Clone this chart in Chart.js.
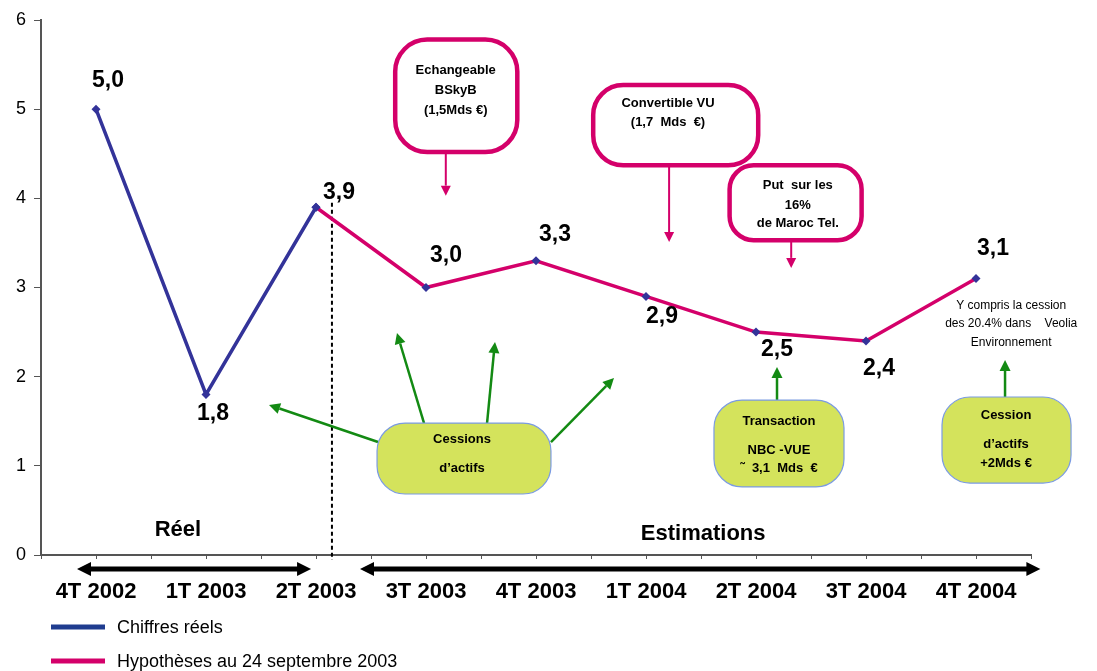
<!DOCTYPE html>
<html>
<head>
<meta charset="utf-8">
<script src="https://cdn.jsdelivr.net/npm/chart.js@4/dist/chart.umd.min.js"></script>
<style>
  html, body { margin: 0; padding: 0; background: #fff; }
  #wrap { position: relative; width: 1097px; height: 671px; }
</style>
</head>
<body>
<div id="wrap"><canvas id="c" width="1097" height="671"></canvas></div>
<script>
// ---- data ----
const categories = ['4T 2002', '1T 2003', '2T 2003', '3T 2003', '4T 2003', '1T 2004', '2T 2004', '3T 2004', '4T 2004'];
const chiffresReels = [5.0, 1.8, 3.9, null, null, null, null, null, null];
const hypotheses = [null, null, 3.9, 3.0, 3.3, 2.9, 2.5, 2.4, 3.1];
const yTickValues = [0, 1, 2, 3, 4, 5, 6];
const seriesNames = ['Chiffres réels', 'Hypothèses au 24 septembre 2003'];

// ---- styling ----
const FONT = '"Liberation Sans", Arial, sans-serif';
const BLUE = '#333399';
const PINK = '#D4006A';
const GREEN = '#138A13';
const BOX_FILL = '#D4E35C';
const BOX_EDGE = '#7B9BE2';
// value-label offsets (px) from each point
const labelOffsets = [[12, -29], [7, 19], [23, -15], [20, -32], [19, -26], [16, 20], [21, 18], [13, 28], [17, -30]];

const toPoints = arr => arr.map((v, i) => ({ x: i, y: v }));
const fmt = v => v.toFixed(1).replace('.', ',');

// callouts, positioned in axis units (x: category index, y: value)
const pinkCallouts = [
  { box: [2.72, 5.78, 3.83, 4.52], cx: 3.27, lines: [['Echangeable', 5.44], ['BSkyB', 5.215], ['(1,5Mds €)', 4.99]], arrow: [3.18, 4.52, 3.18, 4.03], r: 32 },
  { box: [4.52, 5.27, 6.02, 4.37], cx: 5.20, lines: [['Convertible VU', 5.07], ['(1,7  Mds  €)', 4.855]], arrow: [5.21, 4.37, 5.21, 3.51], r: 30 },
  { box: [5.76, 4.37, 6.96, 3.53], cx: 6.38, lines: [['Put  sur les', 4.15], ['16%', 3.925], ['de Maroc Tel.', 3.72]], arrow: [6.32, 3.53, 6.32, 3.22], r: 24 }
];
const greenCallouts = [
  { box: [2.555, 1.48, 4.136, 0.684], cx: 3.327, lines: [['Cessions', 1.30], ['d’actifs', 0.976]],
    arrows: [[2.564, 1.267, 1.573, 1.682], [2.982, 1.48, 2.736, 2.49], [3.555, 1.48, 3.627, 2.389], [4.136, 1.267, 4.709, 1.985]] },
  { box: [5.618, 1.738, 6.80, 0.763], cx: 6.209, lines: [['Transaction', 1.503], ['NBC -VUE', 1.178], ['˜  3,1  Mds  €', 0.976]],
    arrows: [[6.191, 1.738, 6.191, 2.108]] },
  { box: [7.691, 1.772, 8.864, 0.807], cx: 8.273, lines: [['Cession', 1.57], ['d’actifs', 1.245], ['+2Mds €', 1.032]],
    arrows: [[8.264, 1.772, 8.264, 2.187]] }
];
const noteLines = [['Y compris la cession', 2.792], ['des 20.4% dans    Veolia', 2.591], ['Environnement', 2.378]];
const noteX = 8.32;
const periodLabels = [['Réel', 0.745, 0.28], ['Estimations', 5.52, 0.236]];
const divider = { x: 2.145, from: 3.95, to: -0.056 };
const spans = [[-0.173, 1.955, -0.157], [2.40, 8.585, -0.157]];

function roundRect(ctx, x, y, w, h, r) {
  r = Math.min(r, w / 2, h / 2);
  ctx.beginPath();
  ctx.moveTo(x + r, y);
  ctx.arcTo(x + w, y, x + w, y + h, r);
  ctx.arcTo(x + w, y + h, x, y + h, r);
  ctx.arcTo(x, y + h, x, y, r);
  ctx.arcTo(x, y, x + w, y, r);
  ctx.closePath();
}

function arrow(ctx, x1, y1, x2, y2, color, lw, hl, hw) {
  const a = Math.atan2(y2 - y1, x2 - x1);
  const bx = x2 - Math.cos(a) * hl, by = y2 - Math.sin(a) * hl;
  ctx.strokeStyle = color; ctx.fillStyle = color; ctx.lineWidth = lw;
  ctx.beginPath(); ctx.moveTo(x1, y1); ctx.lineTo(bx, by); ctx.stroke();
  ctx.beginPath();
  ctx.moveTo(x2, y2);
  ctx.lineTo(bx + Math.sin(a) * hw, by - Math.cos(a) * hw);
  ctx.lineTo(bx - Math.sin(a) * hw, by + Math.cos(a) * hw);
  ctx.closePath(); ctx.fill();
}

const decorations = {
  id: 'decorations',
  beforeDatasetsDraw(chart) {
    const ctx = chart.ctx, xs = chart.scales.x, ys = chart.scales.y;
    const X = v => xs.getPixelForValue(v), Y = v => ys.getPixelForValue(v);
    ctx.save();
    // divider between actuals and estimates
    ctx.strokeStyle = '#000'; ctx.lineWidth = 2; ctx.setLineDash([4, 3]);
    ctx.beginPath(); ctx.moveTo(X(divider.x), Y(divider.from)); ctx.lineTo(X(divider.x), Y(divider.to)); ctx.stroke();
    ctx.setLineDash([]);
    ctx.restore();
  },
  afterDraw(chart) {
    const ctx = chart.ctx, xs = chart.scales.x, ys = chart.scales.y;
    const X = v => xs.getPixelForValue(v), Y = v => ys.getPixelForValue(v);
    ctx.save();

    // value labels
    ctx.fillStyle = '#000'; ctx.font = `bold 23px ${FONT}`;
    ctx.textAlign = 'center'; ctx.textBaseline = 'middle';
    categories.forEach((c, i) => {
      const v = chiffresReels[i] != null ? chiffresReels[i] : hypotheses[i];
      if (v == null) return;
      const [dx, dy] = labelOffsets[i];
      ctx.fillText(fmt(v), X(i) + dx, Y(v) + dy);
    });

    // period labels
    ctx.font = `bold 22px ${FONT}`;
    periodLabels.forEach(([t, x, y]) => ctx.fillText(t, X(x), Y(y)));

    // double-headed span arrows under the axis
    spans.forEach(([a, b, y]) => {
      const xa = X(a), xb = X(b), yy = Y(y), hl = 14, hw = 7;
      ctx.fillStyle = '#000'; ctx.strokeStyle = '#000'; ctx.lineWidth = 5;
      ctx.beginPath(); ctx.moveTo(xa + hl - 1, yy); ctx.lineTo(xb - hl + 1, yy); ctx.stroke();
      ctx.beginPath(); ctx.moveTo(xa, yy); ctx.lineTo(xa + hl, yy - hw); ctx.lineTo(xa + hl, yy + hw); ctx.closePath(); ctx.fill();
      ctx.beginPath(); ctx.moveTo(xb, yy); ctx.lineTo(xb - hl, yy - hw); ctx.lineTo(xb - hl, yy + hw); ctx.closePath(); ctx.fill();
    });

    // pink callouts
    pinkCallouts.forEach(c => {
      const [x1, y1, x2, y2] = c.box;
      roundRect(ctx, X(x1), Y(y1), X(x2) - X(x1), Y(y2) - Y(y1), c.r);
      ctx.fillStyle = '#fff'; ctx.fill();
      ctx.strokeStyle = PINK; ctx.lineWidth = 4.5; ctx.stroke();
      ctx.fillStyle = '#000'; ctx.font = `bold 13px ${FONT}`;
      c.lines.forEach(([t, y]) => ctx.fillText(t, X(c.cx), Y(y)));
      const [ax1, ay1, ax2, ay2] = c.arrow;
      arrow(ctx, X(ax1), Y(ay1), X(ax2), Y(ay2), PINK, 2, 10, 5);
    });

    // green callouts
    greenCallouts.forEach(c => {
      c.arrows.forEach(([ax1, ay1, ax2, ay2]) => arrow(ctx, X(ax1), Y(ay1), X(ax2), Y(ay2), GREEN, 2.5, 11, 5.5));
      const [x1, y1, x2, y2] = c.box;
      roundRect(ctx, X(x1), Y(y1), X(x2) - X(x1), Y(y2) - Y(y1), 28);
      ctx.fillStyle = BOX_FILL; ctx.fill();
      ctx.strokeStyle = BOX_EDGE; ctx.lineWidth = 1.2; ctx.stroke();
      ctx.fillStyle = '#000'; ctx.font = `bold 13px ${FONT}`;
      c.lines.forEach(([t, y]) => ctx.fillText(t, X(c.cx), Y(y)));
    });

    // note about Veolia
    ctx.font = `12px ${FONT}`; ctx.fillStyle = '#000';
    noteLines.forEach(([t, y]) => ctx.fillText(t, X(noteX), Y(y)));

    // legend
    const lx = 51, lw = 54;
    const ly = [627, 661];
    chart.data.datasets.forEach((ds, i) => {
      ctx.strokeStyle = ds.legendColor; ctx.lineWidth = 5;
      ctx.beginPath(); ctx.moveTo(lx, ly[i]); ctx.lineTo(lx + lw, ly[i]); ctx.stroke();
      ctx.fillStyle = '#000'; ctx.font = `18px ${FONT}`; ctx.textAlign = 'left';
      ctx.fillText(ds.label, lx + 66, ly[i] + 1);
    });
    ctx.restore();
  }
};

new Chart(document.getElementById('c').getContext('2d'), {
  type: 'line',
  data: {
    datasets: [
      { label: seriesNames[0], data: toPoints(chiffresReels), borderColor: BLUE, legendColor: '#1F3C8F', borderWidth: 3.5,
        pointStyle: 'rectRot', pointRadius: 4.5, pointBackgroundColor: BLUE, pointBorderColor: BLUE, pointBorderWidth: 0, tension: 0 },
      { label: seriesNames[1], data: toPoints(hypotheses), borderColor: PINK, legendColor: PINK, borderWidth: 3.5,
        pointStyle: 'rectRot', pointRadius: 4.5, pointBackgroundColor: BLUE, pointBorderColor: BLUE, pointBorderWidth: 0, tension: 0 }
    ]
  },
  options: {
    responsive: false,
    animation: false,
    layout: { padding: { left: 0, right: 66, top: 20, bottom: 0 } },
    plugins: { legend: { display: false }, tooltip: { enabled: false } },
    scales: {
      x: {
        type: 'linear', min: -0.5, max: 8.5,
        afterBuildTicks: s => { const t = []; for (let k = -1; k <= 17; k++) t.push({ value: k / 2 }); s.ticks = t; },
        ticks: { callback: v => Number.isInteger(v) ? categories[v] : '', autoSkip: false, maxRotation: 0, padding: 20,
                 color: '#000', font: { family: FONT, size: 22, weight: 'bold' } },
        grid: { drawOnChartArea: false, drawTicks: true, tickLength: 4, color: '#555', lineWidth: 1 },
        border: { color: '#555', width: 2 },
        afterFit: s => { s.height = 116; }
      },
      y: {
        min: 0, max: 6,
        afterBuildTicks: s => { s.ticks = yTickValues.map(v => ({ value: v })); },
        ticks: { color: '#000', padding: 8, font: { family: FONT, size: 18 } },
        grid: { drawOnChartArea: false, drawTicks: true, tickLength: 7, color: '#555', lineWidth: 1 },
        border: { color: '#555', width: 2 },
        afterFit: s => { s.width = 41; }
      }
    }
  },
  plugins: [decorations]
});
</script>
</body>
</html>
